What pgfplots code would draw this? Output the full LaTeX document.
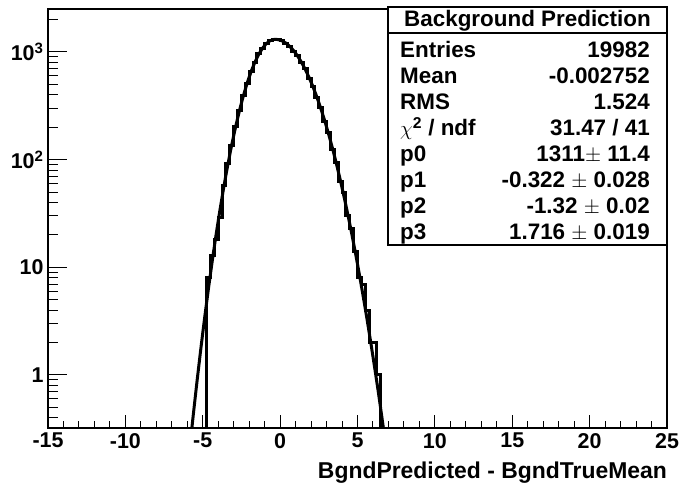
\documentclass[border=0pt]{standalone}
\usepackage{fontspec}
\setmainfont{Liberation Sans}
\usepackage{pgfplots}
\pgfplotsset{compat=1.18}
\begin{document}
\begin{tikzpicture}[x=1bp,y=1bp]
\useasboundingbox (0,0) rectangle (689bp,485bp);
\begin{axis}[
  at={(48bp,57.3bp)}, anchor=south west,
  width=619bp, height=418.7bp, scale only axis,
  xmin=-15, xmax=25, ymode=log, ymin=0.324, ymax=2507,
  xtick={-15,-10,-5,0,5,10,15,20,25},
  xticklabels={-15,-10,-5,0,5,10,15,20,25},
  minor x tick num=4,
  ytick=\empty,
  xtick pos=bottom, ytick pos=left,
  tick align=inside,
  major tick length=12.5bp, minor tick length=6.3bp,
  every tick/.style={line width=1bp, black},
  axis line style={line width=1.6bp},
  xticklabel style={font=\fontsize{21.5}{24}\selectfont\bfseries, yshift=-2bp},
  clip=true,
]
\addplot[const plot mark left, line width=3bp, black] coordinates {
(-5.0,0.01) (-4.75,8) (-4.5,13) (-4.25,18) (-4.0,29) (-3.75,58) (-3.5,92) (-3.25,135)
(-3.0,205) (-2.75,283) (-2.5,395) (-2.25,510) (-2.0,660) (-1.75,800) (-1.5,960)
(-1.25,1085) (-1.0,1205) (-0.75,1270) (-0.5,1318) (-0.25,1295) (0.0,1275) (0.25,1200)
(0.5,1130) (0.75,1020) (1.0,925) (1.25,795) (1.5,695) (1.75,570) (2.0,480) (2.25,375)
(2.5,305) (2.75,228) (3.0,178) (3.25,125) (3.5,95) (3.75,63) (4.0,50) (4.25,30)
(4.5,23) (4.75,14) (5.0,8) (5.25,7) (5.5,4) (5.75,2) (6.0,2) (6.25,1) (6.5,0.01) (7.0,0.01)
};
\addplot[smooth, tension=0.3, line width=3bp, black] coordinates {
(-5.875,0.188) (-5.625,0.41) (-5.375,0.862) (-5.125,1.749) (-4.875,3.42) (-4.625,6.45)
(-4.375,11.76) (-4.125,20.67) (-3.875,35.0) (-3.625,57.3) (-3.375,90.4) (-3.125,137.6)
(-2.875,202.0) (-2.625,286.2) (-2.375,391.1) (-2.125,515.8) (-1.875,656.2) (-1.625,805.4)
(-1.375,953.8) (-1.125,1089.6) (-0.875,1200.9) (-0.625,1276.9) (-0.375,1310.0) (-0.322,1311)
(-0.125,1302.4) (0.125,1267.3) (0.375,1207.2) (0.625,1125.8) (0.875,1027.9) (1.125,918.7)
(1.375,803.9) (1.625,688.7) (1.875,577.7) (2.125,474.3) (2.375,381.3) (2.625,300.0)
(2.875,231.2) (3.125,174.3) (3.375,128.8) (3.625,93.0) (3.875,65.9) (4.125,45.6)
(4.375,31.0) (4.625,20.6) (4.875,13.4) (5.125,8.5) (5.375,5.3) (5.625,3.23) (5.875,1.93)
(6.125,1.13) (6.375,0.65) (6.625,0.36) (6.875,0.198)
};
\end{axis}
\begin{axis}[
  at={(48bp,57.3bp)}, anchor=south west,
  width=619bp, height=418.7bp, scale only axis,
  xmin=-15, xmax=25, ymode=log, ymin=0.324, ymax=2507,
  xtick=\empty,
  ytick={1,10,100,1000},
  yticklabels={1,10,10\textsuperscript{2},10\textsuperscript{3}},
  minor ytick={0.4,0.5,0.6,0.7,0.8,0.9,2,3,4,5,6,7,8,9,20,30,40,50,60,70,80,90,200,300,400,500,600,700,800,900,2000},
  ytick pos=left, tick align=inside,
  major tick length=18.6bp, minor tick length=10bp,
  every tick/.style={line width=1bp, black},
  axis line style={draw=none},
  yticklabel style={font=\fontsize{21.5}{24}\selectfont\bfseries, xshift=-1bp},
]
\end{axis}
\draw[line width=1.2bp, fill=white] (388bp,240bp) rectangle (667bp,478bp);
\draw[line width=1.2bp] (388bp,452bp) -- (667bp,452bp);
\begin{scope}[every node/.style={font=\fontsize{22.5}{25}\selectfont\bfseries, inner sep=0pt}]
\node[anchor=base] at (527.5bp,458bp) {Background Prediction};
\node[anchor=base west] at (400bp,427bp) {Entries};
\node[anchor=base east] at (650bp,427bp) {19982};
\node[anchor=base west] at (400bp,401bp) {Mean};
\node[anchor=base east] at (650bp,401bp) {-0.002752};
\node[anchor=base west] at (400bp,375bp) {RMS};
\node[anchor=base east] at (650bp,375bp) {1.524};
\node[anchor=base west] at (400bp,349bp) {$\chi$\textsuperscript{2} / ndf};
\node[anchor=base east] at (650bp,349bp) {31.47 / 41};
\node[anchor=base west] at (400bp,323bp) {p0};
\node[anchor=base east] at (650bp,323bp) {1311$\pm$ 11.4};
\node[anchor=base west] at (400bp,297bp) {p1};
\node[anchor=base east] at (650bp,297bp) {-0.322 $\pm$ 0.028};
\node[anchor=base west] at (400bp,271bp) {p2};
\node[anchor=base east] at (650bp,271bp) {-1.32 $\pm$ 0.02};
\node[anchor=base west] at (400bp,245bp) {p3};
\node[anchor=base east] at (650bp,245bp) {1.716 $\pm$ 0.019};
\node[anchor=base east, font=\fontsize{23}{26}\selectfont\bfseries] at (667bp,7bp) {BgndPredicted - BgndTrueMean};
\end{scope}
\end{tikzpicture}
\end{document}
